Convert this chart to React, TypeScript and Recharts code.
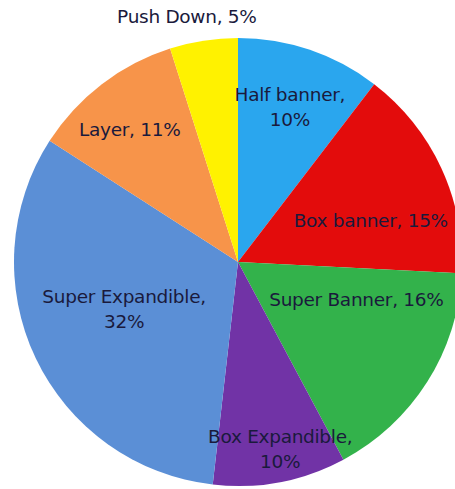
import React from "react";
import { PieChart, Pie, Cell } from "recharts";

const NAMES = ["Half banner", "Box banner", "Super Banner", "Box Expandible", "Super Expandible", "Layer", "Push Down"];
const VALUES = [10.4, 15.4, 16.4, 9.6, 32.3, 11.0, 4.9];
const COLORS = ["#2aa6ee", "#e30c0c", "#33b24b", "#7133a6", "#5b8fd6", "#f7944a", "#fff200"];

// label placement: clockwise degrees from 12 o'clock, radius as fraction of the pie radius
const LABEL_POS = [
  { a: 18.5, r: 0.73, wrap: true },
  { a: 73, r: 0.62, wrap: false },
  { a: 107.8, r: 0.555, wrap: false },
  { a: 167.3, r: 0.857, wrap: true },
  { a: 247.6, r: 0.55, wrap: true },
  { a: 320.7, r: 0.763, wrap: false },
  { a: 348.2, r: 1.117, wrap: false },
];

const data = NAMES.map((name, i) => ({ name, value: VALUES[i] }));

const renderLabel = (props: any) => {
  const { cx, cy, outerRadius, index, percent, name } = props;
  const p = LABEL_POS[index];
  const rad = (p.a * Math.PI) / 180;
  const x = cx + outerRadius * p.r * Math.sin(rad);
  const y = cy - outerRadius * p.r * Math.cos(rad);
  const pct = Math.round(percent * 100) + "%";
  const style = { fontFamily: "DejaVu Sans", fontSize: 18.5, fill: "#1a1a3c", letterSpacing: -0.3 };
  if (p.wrap) {
    return (
      <text x={x} y={y} textAnchor="middle" style={style}>
        <tspan x={x} dy={-6}>{name + ","}</tspan>
        <tspan x={x} dy={25}>{pct}</tspan>
      </text>
    );
  }
  return (
    <text x={x} y={y} dy={6} textAnchor="middle" style={style}>
      {`${name}, ${pct}`}
    </text>
  );
};

export default function App() {
  return (
    <div style={{ position: "absolute", left: 0, top: 0 }}>
      <PieChart width={455} height={489} margin={{ top: 0, right: 0, bottom: 0, left: 0 }}>
        <Pie
          data={data}
          dataKey="value"
          nameKey="name"
          cx={238}
          cy={262}
          outerRadius={224}
          startAngle={90}
          endAngle={-270}
          stroke="none"
          label={renderLabel}
          labelLine={false}
          isAnimationActive={false}
        >
          {data.map((entry, index) => (
            <Cell key={`slice-${index}`} fill={COLORS[index]} />
          ))}
        </Pie>
      </PieChart>
    </div>
  );
}
